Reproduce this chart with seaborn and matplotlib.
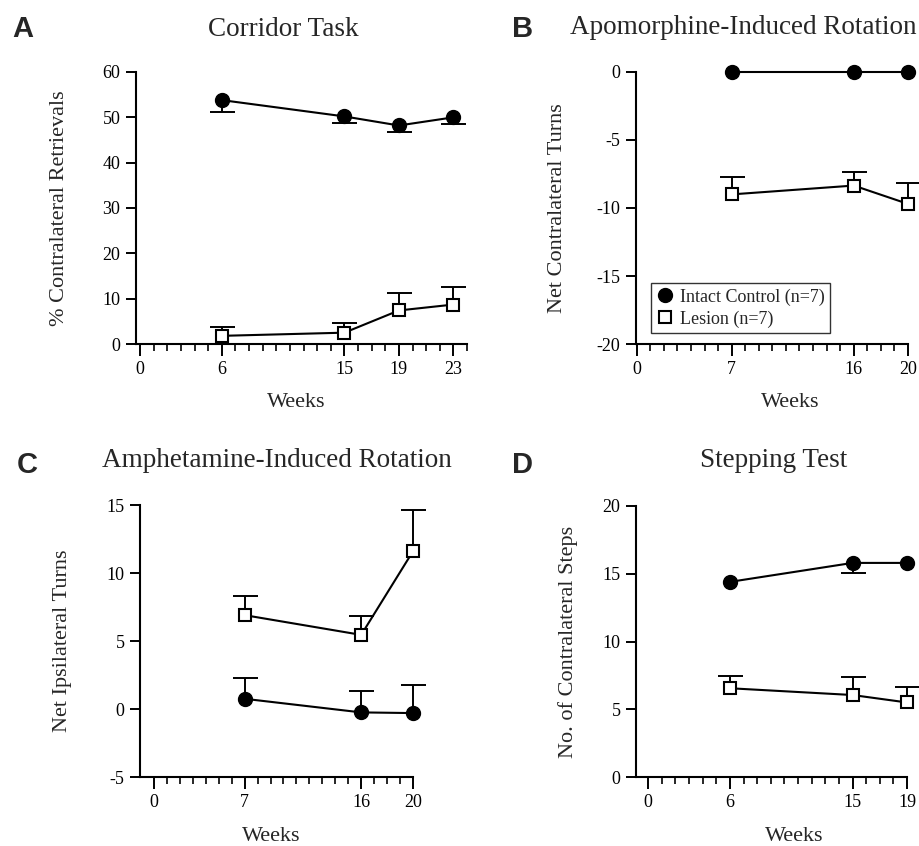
import numpy as np
import pandas as pd
import matplotlib
matplotlib.use("Agg")
import matplotlib.pyplot as plt
from matplotlib.lines import Line2D
from matplotlib.ticker import FixedLocator
import seaborn as sns

# ---------------- data ----------------
A_weeks = [6, 15, 19, 23]
A_control = [53.8, 50.2, 48.2, 50.0]
A_control_err = [2.6, 1.55, 1.45, 1.4]      # drawn downward
A_lesion = [1.8, 2.5, 7.4, 8.7]
A_lesion_err = [1.85, 2.1, 3.8, 3.95]       # drawn upward

B_weeks = [7, 16, 20]
B_control = [0.0, 0.0, 0.0]
B_control_err = [0.0, 0.0, 0.0]
B_lesion = [-9.0, -8.35, -9.7]
B_lesion_err = [1.3, 1.0, 1.55]

C_weeks = [7, 16, 20]
C_control = [0.75, -0.25, -0.3]
C_control_err = [1.5, 1.55, 2.1]            # drawn upward
C_lesion = [6.9, 5.45, 11.6]
C_lesion_err = [1.4, 1.4, 3.05]

D_weeks = [6, 15, 19]
D_control = [14.4, 15.8, 15.8]
D_control_err = [0.0, 0.75, 0.0]            # drawn downward
D_lesion = [6.55, 6.05, 5.5]
D_lesion_err = [0.9, 1.3, 1.15]

titles = ["Corridor Task", "Apomorphine-Induced Rotation",
          "Amphetamine-Induced Rotation", "Stepping Test"]
letters = ["A", "B", "C", "D"]
ylabels = ["% Contralateral Retrievals", "Net Contralateral Turns",
           "Net Ipsilateral Turns", "No. of Contralateral Steps"]
legend_labels = ["Intact Control (n=7)", "Lesion (n=7)"]

# ---------------- style ----------------
sns.set_theme(style="ticks")
plt.rcParams["font.family"] = ["Liberation Serif", "DejaVu Serif"]
plt.rcParams["axes.linewidth"] = 1.5

W, H = 920, 846
fig = plt.figure(figsize=(W / 100, H / 100), dpi=100)


def px_axes(left, right, top, bottom):
    return fig.add_axes([left / W, (H - bottom) / H, (right - left) / W, (bottom - top) / H])


panels = [
    dict(box=(136, 467, 72, 344), xlim=(-0.3, 24), ylim=(0, 60), yt=np.arange(0, 61, 10),
         weeks=A_weeks, ctrl=A_control, cerr=A_control_err, cdir="down",
         les=A_lesion, lerr=A_lesion_err, xmax_minor=24,
         title_xy=(283, 36), letter_xy=(12, 37), ylab_x=59, xlab=(296, 402)),
    dict(box=(636, 908, 72, 344), xlim=(-0.05, 20), ylim=(-20, 0), yt=np.arange(-20, 1, 5),
         weeks=B_weeks, ctrl=B_control, cerr=B_control_err, cdir="down",
         les=B_lesion, lerr=B_lesion_err, xmax_minor=20,
         title_xy=(743, 34), letter_xy=(512, 37), ylab_x=558, xlab=(790, 402)),
    dict(box=(140, 413, 505, 777), xlim=(-1.08, 20), ylim=(-5, 15), yt=np.arange(-5, 16, 5),
         weeks=C_weeks, ctrl=C_control, cerr=C_control_err, cdir="up",
         les=C_lesion, lerr=C_lesion_err, xmax_minor=20,
         title_xy=(277, 467), letter_xy=(17, 473), ylab_x=62, xlab=(271, 836)),
    dict(box=(636, 907, 506, 777), xlim=(-0.9, 19), ylim=(0, 20), yt=np.arange(0, 21, 5),
         weeks=D_weeks, ctrl=D_control, cerr=D_control_err, cdir="down",
         les=D_lesion, lerr=D_lesion_err, xmax_minor=19,
         title_xy=(774, 467), letter_xy=(512, 473), ylab_x=568, xlab=(794, 836)),
]


def one_sided(ax, x, y, err, direction):
    x = np.asarray(x, float); y = np.asarray(y, float); err = np.asarray(err, float)
    m = err > 0
    if not m.any():
        return
    zeros = np.zeros(m.sum())
    yerr = [zeros, err[m]] if direction == "up" else [err[m], zeros]
    eb = ax.errorbar(x[m], y[m], yerr=yerr, fmt="none", ecolor="black",
                     elinewidth=1.4, capsize=9, capthick=1.4, zorder=1.5)
    lo, hi = eb[1]
    (lo if direction == "up" else hi).set_visible(False)
    for c in eb[1]:
        c.set_clip_on(False)
    for c in eb[2]:
        c.set_clip_on(False)


for i, p in enumerate(panels):
    l, r, t, b = p["box"]
    ax = px_axes(l, r, t, b)
    one_sided(ax, p["weeks"], p["les"], p["lerr"], "up")
    one_sided(ax, p["weeks"], p["ctrl"], p["cerr"], p["cdir"])
    df_c = pd.DataFrame({"Weeks": p["weeks"], "val": p["ctrl"]})
    df_l = pd.DataFrame({"Weeks": p["weeks"], "val": p["les"]})
    sns.lineplot(data=df_l, x="Weeks", y="val", ax=ax, color="black", linewidth=1.5,
                 marker="s", markersize=9, markerfacecolor="white",
                 markeredgecolor="black", markeredgewidth=1.5, zorder=3, legend=False,
                 clip_on=False)
    sns.lineplot(data=df_c, x="Weeks", y="val", ax=ax, color="black", linewidth=1.5,
                 marker="o", markersize=10, markerfacecolor="black",
                 markeredgecolor="black", markeredgewidth=1, zorder=3, legend=False,
                 clip_on=False)

    ax.set_xlim(*p["xlim"])
    ax.set_ylim(*p["ylim"])
    ax.set_xticks([0] + list(p["weeks"]))
    ax.xaxis.set_minor_locator(FixedLocator(np.arange(0, p["xmax_minor"] + 1, 1)))
    ax.set_yticks(p["yt"])
    ax.set_yticklabels([str(v) for v in p["yt"]])
    ax.tick_params(axis="x", which="major", direction="out", length=8.5, width=1.4,
                   labelsize=13, pad=4, colors="black")
    ax.tick_params(axis="x", which="minor", direction="out", length=5, width=1.4)
    ax.tick_params(axis="y", which="major", direction="out", length=7.2, width=1.4,
                   labelsize=13, pad=4, colors="black")
    for s in ["top", "right"]:
        ax.spines[s].set_visible(False)
    for s in ["left", "bottom"]:
        ax.spines[s].set_color("black")
        ax.spines[s].set_linewidth(1.5)

    ax.set_ylabel(ylabels[i], fontsize=16, va="center")
    ax.yaxis.set_label_coords((p["ylab_x"] - l) / (r - l), 0.5)
    ax.set_xlabel("Weeks", fontsize=16, va="center")
    ax.xaxis.set_label_coords((p["xlab"][0] - l) / (r - l), -(p["xlab"][1] - b) / (b - t))

    fig.text(p["title_xy"][0] / W, 1 - p["title_xy"][1] / H, titles[i], fontsize=19.5,
             ha="center", va="baseline")
    fig.text(p["letter_xy"][0] / W, 1 - p["letter_xy"][1] / H, letters[i], fontsize=21,
             fontweight="bold", family=["Liberation Sans", "DejaVu Sans"],
             ha="left", va="baseline")

    if i == 1:
        handles = [
            Line2D([], [], marker="o", linestyle="none", color="black", markersize=10),
            Line2D([], [], marker="s", linestyle="none", markerfacecolor="white",
                   markeredgecolor="black", markeredgewidth=1.5, markersize=9),
        ]
        leg = ax.legend(handles, legend_labels, loc="lower left",
                        bbox_to_anchor=((651 - l) / (r - l), (b - 333) / (b - t)),
                        borderaxespad=0, fontsize=13, frameon=True, fancybox=False,
                        handletextpad=0.3, handlelength=1.0, borderpad=0.3,
                        labelspacing=0.25)
        leg.get_frame().set_edgecolor("black")
        leg.get_frame().set_linewidth(1.0)

fig.savefig("out.png", dpi=100)
